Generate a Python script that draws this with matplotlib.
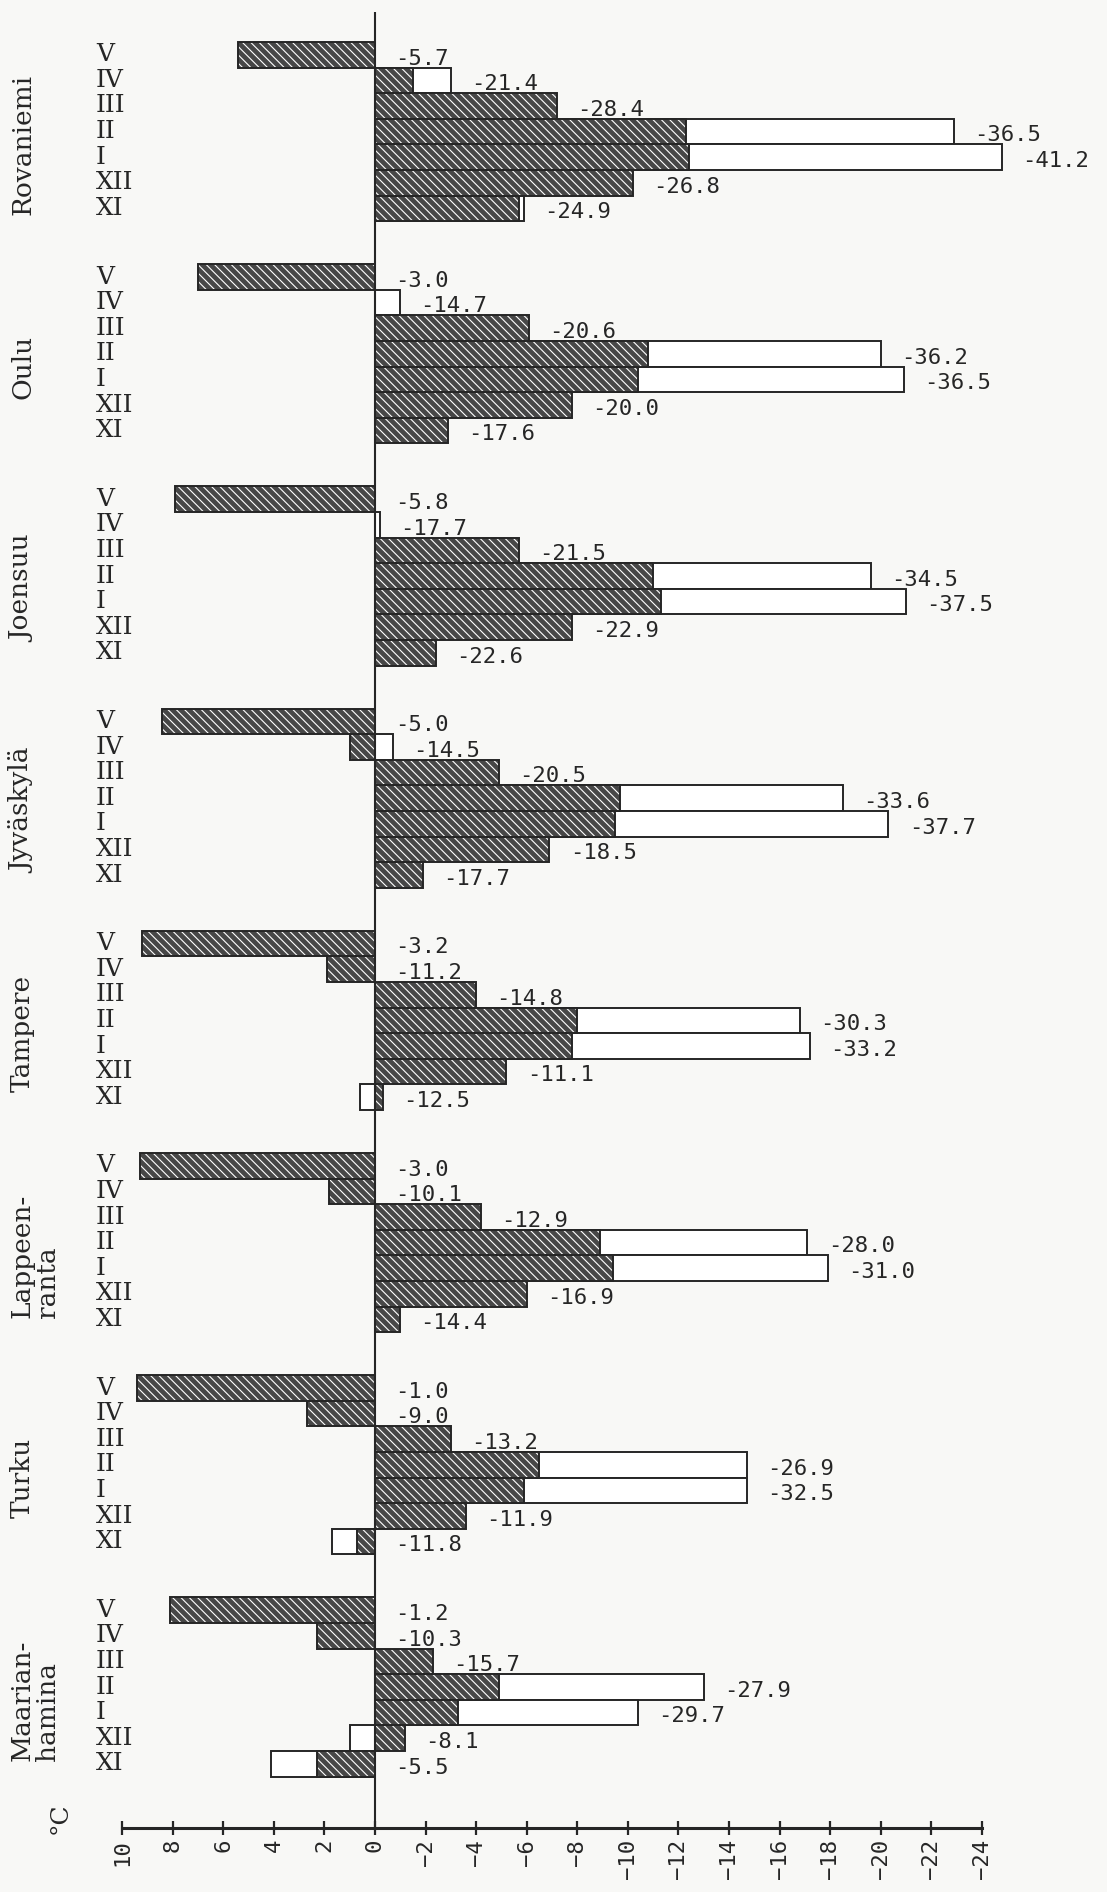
import numpy as np
import matplotlib
matplotlib.use("Agg")
import matplotlib.pyplot as plt
from matplotlib.transforms import blended_transform_factory

# groups top to bottom, months top to bottom inside each group
cities = ["Rovaniemi", "Oulu", "Joensuu", "Jyväskylä", "Tampere",
          "Lappeen-\nranta", "Turku", "Maarian-\nhamina"]
months = ["V", "IV", "III", "II", "I", "XII", "XI"]

nan = np.nan
# hatched bars (mean temperature, degC)
hatched = [
    [5.4, -1.5, -7.2, -12.3, -12.4, -10.2, -5.7],   # Rovaniemi
    [7.0, 0.0, -6.1, -10.8, -10.4, -7.8, -2.9],     # Oulu
    [7.9, 0.0, -5.7, -11.0, -11.3, -7.8, -2.4],     # Joensuu
    [8.4, 1.0, -4.9, -9.7, -9.5, -6.9, -1.9],       # Jyvaskyla
    [9.2, 1.9, -4.0, -8.0, -7.8, -5.2, -0.3],       # Tampere
    [9.3, 1.8, -4.2, -8.9, -9.4, -6.0, -1.0],       # Lappeenranta
    [9.4, 2.7, -3.0, -6.5, -5.9, -3.6, 0.7],        # Turku
    [8.1, 2.3, -2.3, -4.9, -3.3, -1.2, 2.3],        # Maarianhamina
]
# white bars (nan = not drawn)
white = [
    [nan, -3.0, nan, -22.9, -24.8, nan, -5.9],
    [nan, -1.0, nan, -20.0, -20.9, nan, nan],
    [nan, -0.2, nan, -19.6, -21.0, nan, nan],
    [nan, -0.7, nan, -18.5, -20.3, nan, nan],
    [nan, nan, nan, -16.8, -17.2, nan, 0.6],
    [nan, nan, nan, -17.1, -17.9, nan, nan],
    [nan, nan, nan, -14.7, -14.7, nan, 1.7],
    [nan, nan, nan, -13.0, -10.4, 1.0, 4.1],
]
# printed numbers (absolute minimum)
minimum = [
    [-5.7, -21.4, -28.4, -36.5, -41.2, -26.8, -24.9],
    [-3.0, -14.7, -20.6, -36.2, -36.5, -20.0, -17.6],
    [-5.8, -17.7, -21.5, -34.5, -37.5, -22.9, -22.6],
    [-5.0, -14.5, -20.5, -33.6, -37.7, -18.5, -17.7],
    [-3.2, -11.2, -14.8, -30.3, -33.2, -11.1, -12.5],
    [-3.0, -10.1, -12.9, -28.0, -31.0, -16.9, -14.4],
    [-1.0, -9.0, -13.2, -26.9, -32.5, -11.9, -11.8],
    [-1.2, -10.3, -15.7, -27.9, -29.7, -8.1, -5.5],
]
xticks = np.arange(10, -25, -2)

W, H = 1107, 1892
plt.rcParams["hatch.linewidth"] = 0.8
plt.rcParams["hatch.color"] = "white"
ink = "#262626"
paper = "#f8f8f6"

fig = plt.figure(figsize=(W / 100, H / 100), dpi=100, facecolor=paper)

x10, x24 = 122, 982         # pixel of +10 and -24
ytop, ybot = 12, 1828       # pixel of top of zero line and of the axis
row_px, first_px = 25.6, 42
step = 8.68                 # group pitch in rows

ax = fig.add_axes([x10 / W, 1 - ybot / H, (x24 - x10) / W, (ybot - ytop) / H])
ax.set_facecolor(paper)
ax.set_xlim(10, -24)
ax.set_ylim((ybot - first_px) / row_px - 0.5, (ytop - first_px) / row_px - 0.5)

fig_y = blended_transform_factory(fig.transFigure, ax.transData)

for g, city in enumerate(cities):
    y = g * step + np.arange(len(months))
    h = np.array(hatched[g])
    w = np.array(white[g])
    m = ~np.isnan(w)
    ax.barh(y[m], w[m], height=1.0, color="white", edgecolor=ink, lw=1.4,
            clip_on=False, zorder=2)
    # dark fill, white stripes, black outline
    ax.barh(y, h, height=1.0, color="#474747", lw=0, clip_on=False, zorder=3)
    ax.barh(y, h, height=1.0, fill=False, edgecolor="white", lw=0,
            hatch="\\" * 4, clip_on=False, zorder=3.5)
    ax.barh(y, h, height=1.0, fill=False, edgecolor=ink, lw=1.4,
            clip_on=False, zorder=4)

    for i in range(len(months)):
        end = np.nanmin([0, h[i], w[i]])
        ax.text(end - 0.8, y[i] + 0.15, f"{minimum[g][i]:.1f}", ha="left",
                va="center", fontsize=16, family="DejaVu Sans Mono",
                color=ink, clip_on=False)
        ax.text(96 / W, y[i], months[i], transform=fig_y, ha="left",
                va="center", fontsize=18, family="DejaVu Serif", color=ink)

    ax.text(10 / W, g * step + 3.5, city, transform=fig_y, rotation=90,
            ha="left", va="center", multialignment="left", fontsize=19,
            family="DejaVu Serif", color=ink, linespacing=1.0)

ax.axvline(0, color=ink, lw=1.5, zorder=5)

for s in ["top", "right", "left"]:
    ax.spines[s].set_visible(False)
ax.spines["bottom"].set_linewidth(2.2)
ax.spines["bottom"].set_color(ink)
ax.set_yticks([])
ax.set_xticks(xticks)
ax.tick_params(axis="x", direction="inout", length=10, width=1.6,
               color=ink, labelrotation=90, pad=3, labelsize=16,
               labelcolor=ink)
for lab in ax.get_xticklabels():
    lab.set_family("DejaVu Sans Mono")

fig.text(60 / W, 1 - 1818 / H, "°C", rotation=90, ha="center", va="center",
         fontsize=18, family="DejaVu Serif", color=ink)

fig.savefig("out.png", dpi=100, facecolor=paper)
